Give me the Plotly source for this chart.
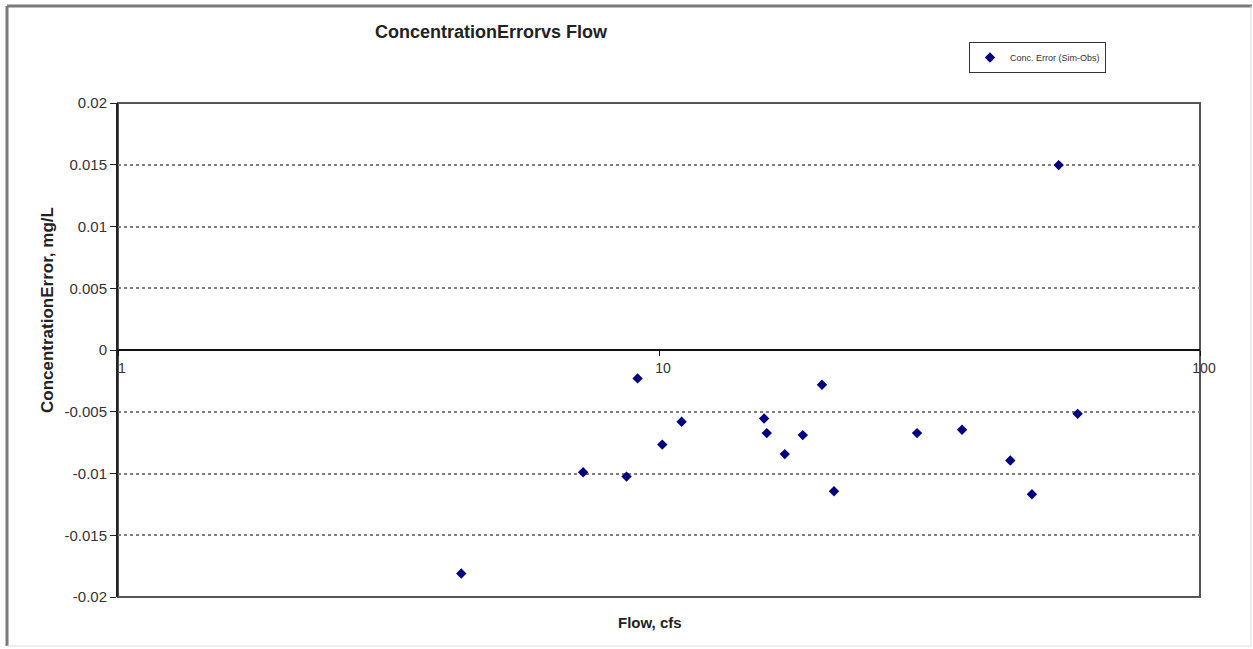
import plotly.graph_objects as go

# Flow (cfs) and concentration error (mg/L, simulated minus observed)
flow_cfs = [4.31, 7.24, 8.71, 9.13, 10.14, 11.01, 15.64, 15.82, 17.08,
            18.44, 20.01, 21.06, 29.99, 36.32, 44.6, 48.9, 54.8, 59.4]
conc_error = [-0.0181, -0.0099, -0.01025, -0.0023, -0.00766, -0.00581,
              -0.00555, -0.00673, -0.00843, -0.00689, -0.00281, -0.01144,
              -0.00673, -0.00646, -0.00895, -0.01168, 0.01497, -0.00517]

x_ticks = [1, 10, 100]
x_tick_text = ["1", "10", "100"]
y_ticks = [-0.02, -0.015, -0.01, -0.005, 0, 0.005, 0.01, 0.015, 0.02]
y_tick_text = ["-0.02", "-0.015", "-0.01", "-0.005", "0", "0.005", "0.01", "0.015", "0.02"]

FONT = "Liberation Sans, Arial, sans-serif"
W, H = 1253, 649
L, R, T, B = 118, 53, 103, 52
PW, PH = W - L - R, H - T - B


def px_x(p):
    return (p - L) / PW


def px_y(p):
    return (H - B - p) / PH


fig = go.Figure()
fig.add_trace(go.Scatter(
    x=flow_cfs, y=conc_error, mode="markers",
    name="Conc. Error (Sim-Obs)",
    marker=dict(symbol="diamond", size=8, color="#000080",
                line=dict(width=0)),
))

fig.update_layout(
    width=W, height=H,
    margin=dict(l=L, r=R, t=T, b=B, pad=0),
    paper_bgcolor="white", plot_bgcolor="white",
    font=dict(family=FONT, color="#222222"),
    showlegend=True,
    legend=dict(
        x=px_x(969), y=px_y(42), xanchor="left", yanchor="top",
        bordercolor="#333333", borderwidth=1, bgcolor="white",
        font=dict(size=9, color="#333333", family=FONT),
        itemwidth=30,
    ),
    xaxis=dict(
        type="log", range=[0, 2],
        tickvals=x_ticks, ticktext=x_tick_text,
        anchor="free", position=0.5,
        showline=True, linecolor="#111111", linewidth=2,
        ticks="outside", ticklen=5, tickcolor="#111111", tickwidth=1,
        showgrid=False, zeroline=False,
        ticklabeloverflow="allow", ticklabelshift=4,
        tickfont=dict(size=14, color="#333333", family=FONT),
    ),
    yaxis=dict(
        range=[-0.02, 0.02],
        tickvals=y_ticks, ticktext=y_tick_text,
        showline=True, linecolor="#222222", linewidth=2,
        ticks="outside", ticklen=6, tickcolor="#222222", tickwidth=1,
        showgrid=True, gridcolor="#7f7f7f", gridwidth=1.5, griddash="dot",
        zeroline=False,
        tickfont=dict(size=15, color="#333333", family=FONT),
    ),
    annotations=[
        dict(text="<b>ConcentrationErrorvs Flow</b>", x=px_x(491), y=px_y(32),
             xref="paper", yref="paper", showarrow=False,
             xanchor="center", yanchor="middle",
             font=dict(size=18, color="#222222", family=FONT)),
        dict(text="<b>ConcentrationError, mg/L</b>", x=px_x(47), y=px_y(310),
             xref="paper", yref="paper", showarrow=False, textangle=-90,
             xanchor="center", yanchor="middle",
             font=dict(size=17, color="#222222", family=FONT)),
        dict(text="<b>Flow, cfs</b>", x=px_x(650), y=px_y(622),
             xref="paper", yref="paper", showarrow=False,
             xanchor="center", yanchor="middle",
             font=dict(size=15, color="#222222", family=FONT)),
    ],
    shapes=[
        # plot area frame
        dict(type="rect", xref="paper", yref="paper", x0=0, x1=1, y0=0, y1=1,
             line=dict(color="#555555", width=2), layer="below"),
        # outer chart border
        dict(type="line", xref="paper", yref="paper",
             x0=px_x(7), x1=px_x(1252), y0=px_y(6), y1=px_y(6),
             line=dict(color="#7a7a7a", width=3)),
        dict(type="line", xref="paper", yref="paper",
             x0=px_x(7), x1=px_x(7), y0=px_y(6), y1=px_y(646),
             line=dict(color="#7a7a7a", width=3)),
        dict(type="line", xref="paper", yref="paper",
             x0=px_x(1251), x1=px_x(1251), y0=px_y(6), y1=px_y(646),
             line=dict(color="#dddddd", width=1)),
        dict(type="line", xref="paper", yref="paper",
             x0=px_x(7), x1=px_x(1251), y0=px_y(646), y1=px_y(646),
             line=dict(color="#dddddd", width=1)),
    ],
)

fig.write_html("out.html")
